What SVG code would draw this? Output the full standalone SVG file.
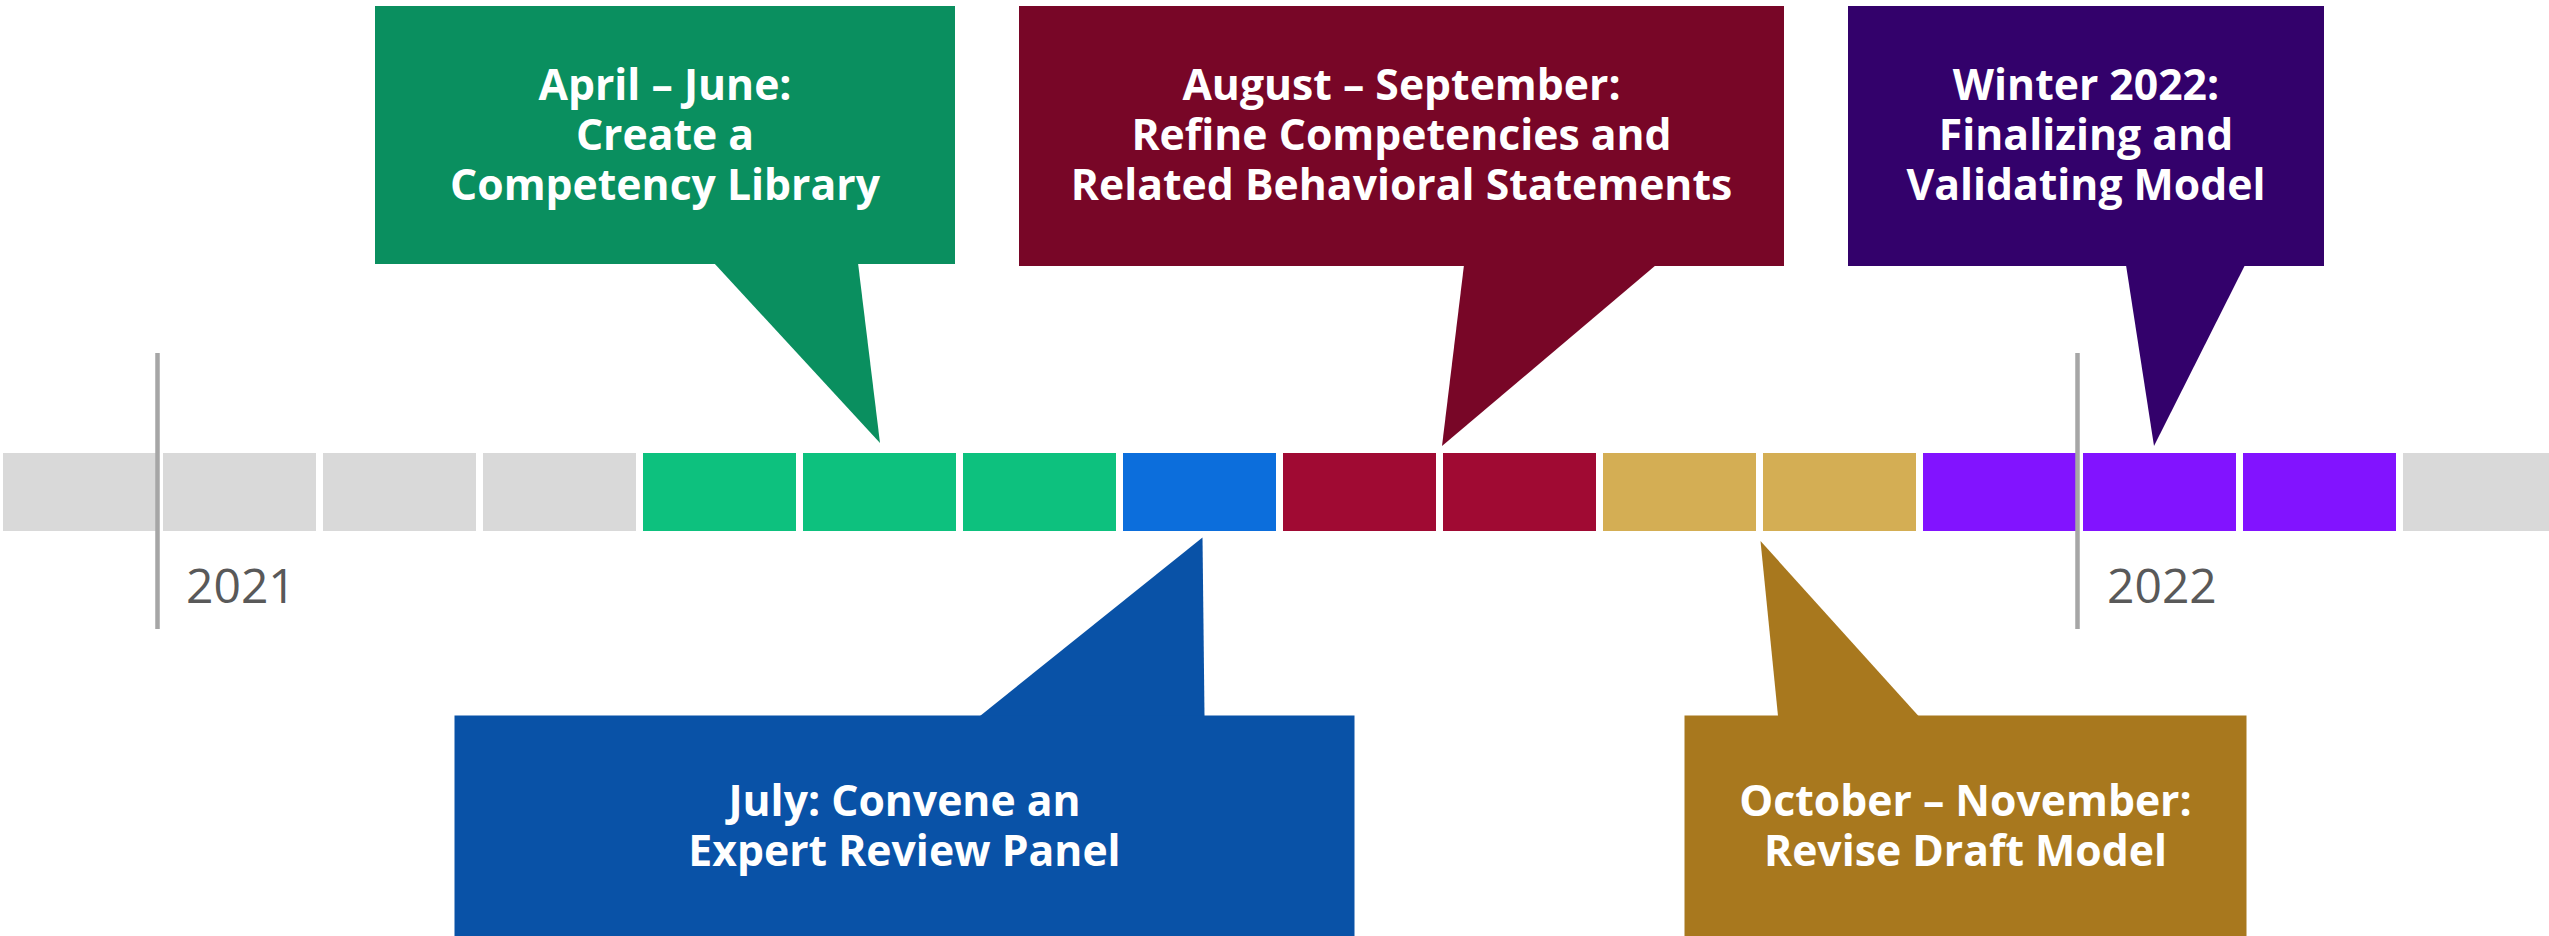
<svg xmlns="http://www.w3.org/2000/svg" width="2549" height="936" viewBox="0 0 2549 936">
  <style>
    .seg-gray { fill: #D9D9D9; }
    .seg-green { fill: #0DC17E; }
    .seg-blue { fill: #0C6EDC; }
    .seg-red { fill: #A00A33; }
    .seg-gold { fill: #D4AE54; }
    .seg-purple { fill: #8213FF; }
    .yearline { stroke: #A6A6A6; stroke-width: 4.5; }
    .year { font-family: "Open Sans", "Liberation Sans", sans-serif; font-size: 48px; fill: #595959; }
    .label { font-family: "Open Sans", "Liberation Sans", sans-serif; font-weight: 700; font-size: 42.7px; fill: #FFFFFF; text-anchor: middle; }
  </style>

  <!-- monthly timeline bar -->
  <g id="timeline">
    <rect class="seg-gray" x="3" y="453" width="153" height="78"/>
    <rect class="seg-gray" x="163" y="453" width="153" height="78"/>
    <rect class="seg-gray" x="323" y="453" width="153" height="78"/>
    <rect class="seg-gray" x="483" y="453" width="153" height="78"/>
    <rect class="seg-green" x="643" y="453" width="153" height="78"/>
    <rect class="seg-green" x="803" y="453" width="153" height="78"/>
    <rect class="seg-green" x="963" y="453" width="153" height="78"/>
    <rect class="seg-blue" x="1123" y="453" width="153" height="78"/>
    <rect class="seg-red" x="1283" y="453" width="153" height="78"/>
    <rect class="seg-red" x="1443" y="453" width="153" height="78"/>
    <rect class="seg-gold" x="1603" y="453" width="153" height="78"/>
    <rect class="seg-gold" x="1763" y="453" width="153" height="78"/>
    <rect class="seg-purple" x="1923" y="453" width="153" height="78"/>
    <rect class="seg-purple" x="2083" y="453" width="153" height="78"/>
    <rect class="seg-purple" x="2243" y="453" width="153" height="78"/>
    <rect class="seg-gray" x="2403" y="453" width="146" height="78"/>
  </g>

  <!-- year markers -->
  <g id="year-2021">
    <line class="yearline" x1="157.5" y1="353" x2="157.5" y2="629"/>
    <text class="year" x="186" y="603">2021</text>
  </g>
  <g id="year-2022">
    <line class="yearline" x1="2077.5" y1="353" x2="2077.5" y2="629"/>
    <text class="year" x="2107" y="603">2022</text>
  </g>

  <!-- callout tails pointing at the bar -->
  <g id="connectors">
    <polygon points="714,263 880,443 858,263" fill="#0A8F5F"/>
    <polygon points="1464,265 1442,446 1656,265" fill="#780627"/>
    <polygon points="2126,265 2154,446 2245,265" fill="#33016B"/>
    <polygon points="980,716 1202.5,537.5 1204.5,716" fill="#0952A7"/>
    <polygon points="1778,716 1760.5,541 1918.5,716" fill="#A8781E"/>
  </g>

  <g id="callout-apr-jun">
    <rect x="375" y="6" width="580" height="258" fill="#0A8F5F"/>
    <text class="label" x="665" y="100">April – June:</text>
    <text class="label" x="665" y="150">Create a</text>
    <text class="label" x="665" y="200">Competency Library</text>
  </g>

  <g id="callout-aug-sep">
    <rect x="1019" y="6" width="765" height="260" fill="#780627"/>
    <text class="label" x="1401.5" y="100">August – September:</text>
    <text class="label" x="1401.5" y="150">Refine Competencies and</text>
    <text class="label" x="1401.5" y="200">Related Behavioral Statements</text>
  </g>

  <g id="callout-winter">
    <rect x="1848" y="6" width="476" height="260" fill="#33016B"/>
    <text class="label" x="2086" y="100">Winter 2022:</text>
    <text class="label" x="2086" y="150">Finalizing and</text>
    <text class="label" x="2086" y="200">Validating Model</text>
  </g>

  <g id="callout-jul">
    <rect x="454.5" y="715.5" width="900" height="221" fill="#0952A7"/>
    <text class="label" x="904.5" y="816">July: Convene an</text>
    <text class="label" x="904.5" y="866">Expert Review Panel</text>
  </g>

  <g id="callout-oct-nov">
    <rect x="1684.5" y="715.5" width="562" height="221" fill="#A8781E"/>
    <text class="label" x="1965.5" y="816">October – November:</text>
    <text class="label" x="1965.5" y="866">Revise Draft Model</text>
  </g>
</svg>
